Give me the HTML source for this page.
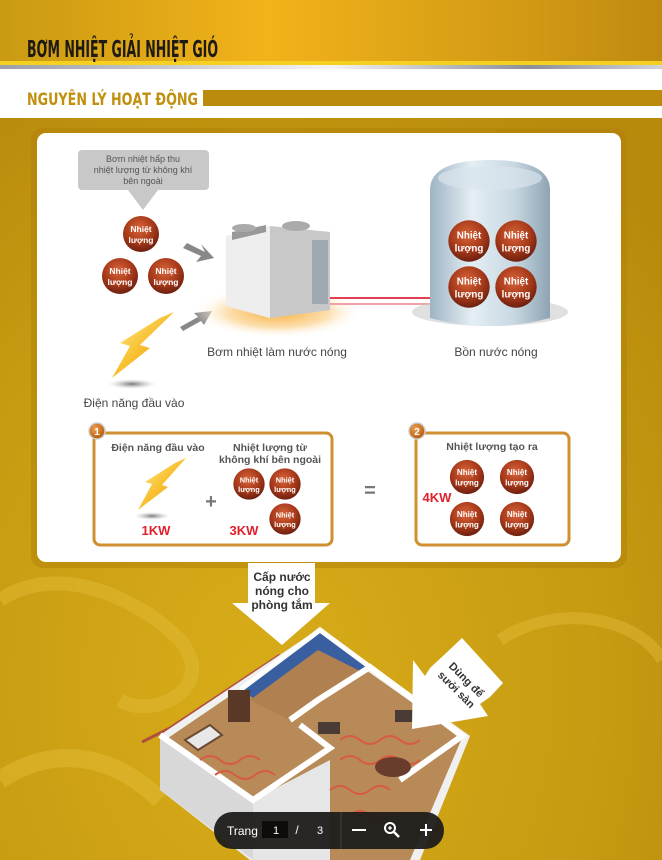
<!DOCTYPE html>
<html><head><meta charset="utf-8"><style>
html,body{margin:0;padding:0;width:662px;height:860px;overflow:hidden;background:#c49a10;}
svg{display:block}
text{font-family:"Liberation Sans",sans-serif;}
</style></head><body>
<svg width="662" height="860" viewBox="0 0 662 860" xmlns="http://www.w3.org/2000/svg">
<defs>
<linearGradient id="topg" x1="0" y1="0" x2="1" y2="0">
<stop offset="0" stop-color="#c99a12"/><stop offset="0.4" stop-color="#f2b21a"/><stop offset="0.7" stop-color="#d9a016"/><stop offset="1" stop-color="#c08a10"/></linearGradient>
<linearGradient id="silver" x1="0" y1="0" x2="1" y2="0">
<stop offset="0" stop-color="#9aa0a6"/><stop offset="0.5" stop-color="#f4f4f4"/><stop offset="0.8" stop-color="#8a9096"/><stop offset="1" stop-color="#d0d4d8"/></linearGradient>
<radialGradient id="bg" cx="0.4" cy="0.8" r="0.8">
<stop offset="0" stop-color="#d8ac18"/><stop offset="0.6" stop-color="#c89c12"/><stop offset="1" stop-color="#b88a0c"/></radialGradient>
<radialGradient id="ball" cx="0.45" cy="0.35" r="0.65">
<stop offset="0" stop-color="#d8643a"/><stop offset="0.6" stop-color="#a83a1a"/><stop offset="1" stop-color="#6e2010"/></radialGradient>
<linearGradient id="tank" x1="0" y1="0" x2="1" y2="0">
<stop offset="0" stop-color="#9fb4c4"/><stop offset="0.35" stop-color="#e4eef4"/><stop offset="0.7" stop-color="#c8d8e2"/><stop offset="1" stop-color="#8ea4b4"/></linearGradient>
<radialGradient id="glow" cx="0.5" cy="0.5" r="0.5">
<stop offset="0" stop-color="#f8b040"/><stop offset="0.6" stop-color="#fce0b0"/><stop offset="1" stop-color="#ffffff" stop-opacity="0"/></radialGradient>
<linearGradient id="bolt" x1="0" y1="0" x2="1" y2="1">
<stop offset="0" stop-color="#fff2a0"/><stop offset="0.5" stop-color="#f8c030"/><stop offset="1" stop-color="#e89010"/></linearGradient>
<radialGradient id="shad" cx="0.5" cy="0.5" r="0.5">
<stop offset="0" stop-color="#777"/><stop offset="1" stop-color="#ccc" stop-opacity="0"/></radialGradient>
<radialGradient id="num" cx="0.4" cy="0.35" r="0.6">
<stop offset="0" stop-color="#f0a050"/><stop offset="1" stop-color="#b86010"/></radialGradient>
<g id="b">
<circle r="18" fill="url(#ball)"/>
<text y="-2" text-anchor="middle" font-size="8.5" fill="#fff" font-weight="bold">Nhiệt</text>
<text y="9" text-anchor="middle" font-size="8.5" fill="#fff" font-weight="bold">lượng</text>
</g>
</defs>

<rect width="662" height="860" fill="url(#bg)"/>
<rect width="662" height="64" fill="url(#topg)"/>
<rect y="61" width="662" height="4" fill="#f5d020"/>
<rect y="65" width="662" height="4" fill="url(#silver)"/>
<rect y="69" width="662" height="49" fill="#fff"/>
<text x="27" y="57" font-size="23" font-weight="bold" fill="#1e1a14" style="font-family:'DejaVu Sans Condensed','DejaVu Sans',sans-serif" textLength="191" lengthAdjust="spacingAndGlyphs">BƠM NHIỆT GIẢI NHIỆT GIÓ</text>
<text x="27" y="105" font-size="17" font-weight="bold" fill="#c0900e" style="font-family:'DejaVu Sans Condensed','DejaVu Sans',sans-serif" textLength="171" lengthAdjust="spacingAndGlyphs">NGUYÊN LÝ HOẠT ĐỘNG</text>
<rect x="203" y="90" width="459" height="16" fill="#bc8a0c"/>

<path d="M0 600 C60 560 140 600 180 640 C220 690 150 720 120 700" fill="none" stroke="#e2bc3a" stroke-width="14" opacity="0.45"/>
<path d="M500 640 C560 600 640 620 662 660" fill="none" stroke="#e6c040" stroke-width="12" opacity="0.4"/>
<path d="M0 780 C60 740 120 760 160 800" fill="none" stroke="#ecc848" stroke-width="18" opacity="0.35"/>

<rect x="31" y="128" width="596" height="440" rx="12" fill="#b08008" opacity="0.5"/>
<rect x="37" y="133" width="584" height="429" rx="9" fill="#fff"/>

<rect x="78" y="150" width="131" height="40" rx="4" fill="#c8c8c8"/>
<polygon points="128,190 158,190 143,210" fill="#c8c8c8"/>
<text x="143" y="162" font-size="9" fill="#555" text-anchor="middle">Bơm nhiệt hấp thu</text>
<text x="143" y="173" font-size="9" fill="#555" text-anchor="middle">nhiệt lượng từ không khí</text>
<text x="143" y="184" font-size="9" fill="#555" text-anchor="middle">bên ngoài</text>
<use href="#b" x="141" y="234"/>
<use href="#b" x="120" y="276"/>
<use href="#b" x="166" y="276"/>
<path d="M187 243 L205 252 L201 244 L214 258 L196 262 L201 256 L183 248 Z" fill="#888"/>
<path d="M180 327 L198 317 L194 313 L212 311 L204 325 L201 321 L183 331 Z" fill="#888"/>

<ellipse cx="278" cy="312" rx="85" ry="26" fill="url(#glow)"/>
<line x1="330" y1="298" x2="432" y2="298" stroke="#e04050" stroke-width="2"/>
<line x1="330" y1="304" x2="432" y2="304" stroke="#f0a0a8" stroke-width="2"/>
<polygon points="226,236 270,226 330,232 330,310 270,318 226,306" fill="#dcdcdc"/>
<polygon points="226,236 270,226 270,318 226,306" fill="#eee"/>
<polygon points="270,226 330,232 330,310 270,318" fill="#c8c8c8"/>
<rect x="312" y="240" width="16" height="64" fill="#a0a8b0"/>
<polygon points="232,232 266,225 266,232 232,240" fill="#999"/>
<ellipse cx="244" cy="228" rx="12" ry="4" fill="#aaa"/>
<ellipse cx="296" cy="226" rx="14" ry="5" fill="#aaa"/>

<ellipse cx="490" cy="312" rx="78" ry="14" fill="#ccc" opacity="0.6"/>
<path d="M430 190 Q430 160 490 160 Q550 160 550 190 L550 318 Q490 334 430 318 Z" fill="url(#tank)"/>
<ellipse cx="490" cy="178" rx="52" ry="12" fill="#d8e4ec" opacity="0.7"/>
<g transform="translate(469,241) scale(1.15)"><use href="#b"/></g>
<g transform="translate(516,241) scale(1.15)"><use href="#b"/></g>
<g transform="translate(469,287) scale(1.15)"><use href="#b"/></g>
<g transform="translate(516,287) scale(1.15)"><use href="#b"/></g>

<text x="277" y="356" font-size="12" fill="#444" text-anchor="middle">Bơm nhiệt làm nước nóng</text>
<text x="496" y="356" font-size="12" fill="#444" text-anchor="middle">Bồn nước nóng</text>

<ellipse cx="132" cy="384" rx="24" ry="5" fill="url(#shad)"/>
<polygon points="174,312 140,345 150,348 112,378 130,346 120,343 160,318" fill="url(#bolt)"/>
<text x="134" y="407" font-size="12" fill="#444" text-anchor="middle">Điện năng đầu vào</text>

<rect x="94" y="433" width="238" height="112" rx="6" fill="#fff" stroke="#d09030" stroke-width="3"/>
<circle cx="97" cy="431" r="8" fill="url(#num)" stroke="#ccc" stroke-width="1.5"/>
<text x="97" y="435" font-size="10" font-weight="bold" fill="#fff" text-anchor="middle">1</text>
<text x="158" y="451" font-size="10.5" font-weight="bold" fill="#555" text-anchor="middle">Điện năng đầu vào</text>
<text x="270" y="451" font-size="10.5" font-weight="bold" fill="#555" text-anchor="middle">Nhiệt lượng từ</text>
<text x="270" y="463" font-size="10.5" font-weight="bold" fill="#555" text-anchor="middle">không khí bên ngoài</text>
<ellipse cx="152" cy="516" rx="18" ry="4" fill="url(#shad)"/>
<polygon points="186,458 162,485 168,487 138,510 152,484 145,482 175,463" fill="url(#bolt)"/>
<text x="211" y="508" font-size="20" font-weight="bold" fill="#777" text-anchor="middle">+</text>
<g transform="translate(249,484) scale(0.87)"><use href="#b"/></g>
<g transform="translate(285,484) scale(0.87)"><use href="#b"/></g>
<g transform="translate(285,519) scale(0.87)"><use href="#b"/></g>
<text x="156" y="535" font-size="13" font-weight="bold" fill="#e0202a" text-anchor="middle">1KW</text>
<text x="244" y="535" font-size="13" font-weight="bold" fill="#e0202a" text-anchor="middle">3KW</text>
<text x="370" y="497" font-size="20" font-weight="bold" fill="#777" text-anchor="middle">=</text>

<rect x="416" y="433" width="153" height="112" rx="6" fill="#fff" stroke="#d09030" stroke-width="3"/>
<circle cx="417" cy="431" r="8" fill="url(#num)" stroke="#ccc" stroke-width="1.5"/>
<text x="417" y="435" font-size="10" font-weight="bold" fill="#fff" text-anchor="middle">2</text>
<text x="492" y="450" font-size="10.5" font-weight="bold" fill="#555" text-anchor="middle">Nhiệt lượng tạo ra</text>
<g transform="translate(467,477) scale(0.95)"><use href="#b"/></g>
<g transform="translate(517,477) scale(0.95)"><use href="#b"/></g>
<g transform="translate(467,519) scale(0.95)"><use href="#b"/></g>
<g transform="translate(517,519) scale(0.95)"><use href="#b"/></g>
<text x="437" y="502" font-size="13" font-weight="bold" fill="#e0202a" text-anchor="middle">4KW</text>

<!-- house -->
<path d="M142 742 L170 728 L280 655" fill="none" stroke="#b05040" stroke-width="3"/>
<polygon points="160,735 320,628 470,736 420,860 250,860 160,790" fill="#f0f0f0"/>
<polygon points="168,738 318,636 462,738 410,860 255,860 170,785" fill="#b88a58"/>
<polygon points="240,690 320,630 370,667 290,720" fill="#3a5fa0"/>
<polygon points="250,700 318,650 362,672 290,720" fill="#b08050"/>
<polygon points="160,735 160,790 253,860 253,800" fill="#d8d8d8"/>
<polygon points="253,800 253,860 330,860 330,760" fill="#e6e6e6"/>
<polyline points="160,735 253,800 330,748 300,725" fill="none" stroke="#fff" stroke-width="6"/>
<polyline points="290,720 318,700 370,667 462,736 400,780" fill="none" stroke="#fff" stroke-width="6"/>
<polyline points="240,690 320,630 370,667" fill="none" stroke="#fff" stroke-width="5"/>
<path d="M200 760 q10 -8 20 0 q10 8 20 0 q10 -8 20 0 M215 775 q10 -8 20 0 q10 8 20 0 q10 -8 20 0 M340 740 q10 -8 20 0 q10 8 20 0 q10 -8 20 0 q10 8 20 0 M340 760 q10 -8 20 0 q10 8 20 0 q10 -8 20 0 q10 8 20 0 M330 790 q10 -8 20 0 q10 8 20 0 q10 -8 20 0 M350 815 q10 -8 20 0 q10 8 20 0" fill="none" stroke="#d85a40" stroke-width="2"/>
<polygon points="185,740 210,725 222,735 198,750" fill="#e8e8e8" stroke="#6a4a34" stroke-width="2"/>
<rect x="228" y="690" width="22" height="32" fill="#5a3828"/>
<ellipse cx="393" cy="767" rx="18" ry="10" fill="#6a3c2c"/>
<rect x="318" y="722" width="22" height="12" fill="#4a3c34"/>
<rect x="395" y="710" width="22" height="12" fill="#4a3c34"/>

<polygon points="248,563 315,563 315,603 330,603 282,645 232,603 248,603" fill="#fff"/>
<text x="282" y="581" font-size="12" font-weight="bold" fill="#333" text-anchor="middle">Cấp nước</text>
<text x="282" y="595" font-size="12" font-weight="bold" fill="#333" text-anchor="middle">nóng cho</text>
<text x="282" y="609" font-size="12" font-weight="bold" fill="#333" text-anchor="middle">phòng tắm</text>
<polygon points="462,638 503,683 490,697 480,704 488,716 412,729 413,660 425,676 430,668 444,655" fill="#fff"/>
<g transform="translate(458,688) rotate(45)">
<text x="0" y="-8" font-size="11" font-weight="bold" fill="#333" text-anchor="middle">Dùng để</text>
<text x="0" y="6" font-size="11" font-weight="bold" fill="#333" text-anchor="middle">sưởi sàn</text>
</g>

<rect x="214" y="812" width="230" height="37" rx="18.5" fill="#1e1c1a" opacity="0.95"/>
<text x="227" y="835" font-size="12" fill="#fff">Trang</text>
<rect x="262" y="821" width="26" height="17" fill="#0e0c0a"/>
<text x="276" y="834" font-size="11" fill="#fff" text-anchor="middle">1</text>
<text x="297" y="834" font-size="12" fill="#fff" text-anchor="middle">/</text>
<text x="320" y="834" font-size="11" fill="#fff" text-anchor="middle">3</text>
<line x1="341" y1="812" x2="341" y2="849" stroke="#444" stroke-width="1"/>
<line x1="352" y1="830" x2="366" y2="830" stroke="#fff" stroke-width="2"/>
<circle cx="390" cy="828" r="5" fill="none" stroke="#fff" stroke-width="2"/>
<line x1="394" y1="832" x2="399" y2="837" stroke="#fff" stroke-width="2.5"/>
<line x1="388" y1="828" x2="392" y2="828" stroke="#fff" stroke-width="1.3"/>
<line x1="390" y1="826" x2="390" y2="830" stroke="#fff" stroke-width="1.3"/>
<line x1="420" y1="830" x2="432" y2="830" stroke="#fff" stroke-width="2"/>
<line x1="426" y1="824" x2="426" y2="836" stroke="#fff" stroke-width="2"/>
</svg>
</body></html>
